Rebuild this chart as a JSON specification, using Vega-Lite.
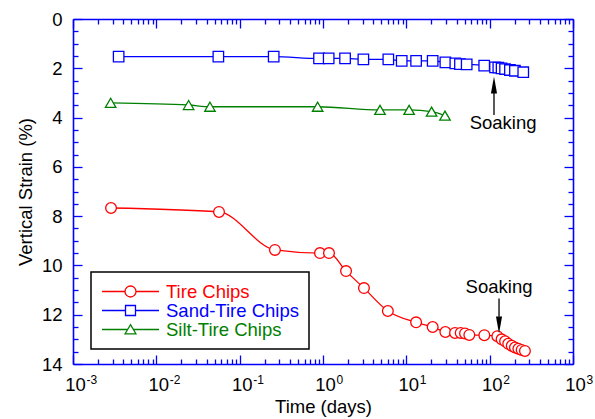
{
  "$schema": "https://vega.github.io/schema/vega-lite/v6.json",
  "width": 500,
  "height": 345,
  "autosize": {"type": "none"},
  "padding": {"left": 73, "top": 19, "right": 22, "bottom": 55},
  "background": "white",
  "config": {
    "view": {"stroke": null},
    "font": "Liberation Sans",
    "axis": {
      "grid": false,
      "domainColor": "#0000ff",
      "tickColor": "#0000ff",
      "domainWidth": 1.6,
      "tickWidth": 1.3,
      "labelColor": "black",
      "titleColor": "black",
      "labelFont": "Liberation Sans",
      "titleFont": "Liberation Sans",
      "labelFontSize": 18.5,
      "titleFontSize": 18.5,
      "titleFontWeight": "normal"
    }
  },
  "datasets": {
    "curves": [
      {"series": "Tire Chips", "t": 0.00286, "strain": 7.67},
      {"series": "Tire Chips", "t": 0.0565, "strain": 7.83},
      {"series": "Tire Chips", "t": 0.265, "strain": 9.37},
      {"series": "Tire Chips", "t": 0.92, "strain": 9.5},
      {"series": "Tire Chips", "t": 1.18, "strain": 9.5},
      {"series": "Tire Chips", "t": 1.89, "strain": 10.23},
      {"series": "Tire Chips", "t": 3.1, "strain": 10.92},
      {"series": "Tire Chips", "t": 6.0, "strain": 11.85},
      {"series": "Tire Chips", "t": 13.1, "strain": 12.31},
      {"series": "Tire Chips", "t": 20.7, "strain": 12.5},
      {"series": "Tire Chips", "t": 29.4, "strain": 12.7},
      {"series": "Tire Chips", "t": 38.4, "strain": 12.74},
      {"series": "Tire Chips", "t": 44.9, "strain": 12.74},
      {"series": "Tire Chips", "t": 50.6, "strain": 12.76},
      {"series": "Tire Chips", "t": 57, "strain": 12.82},
      {"series": "Tire Chips", "t": 86.3, "strain": 12.83},
      {"series": "Tire Chips", "t": 123.6, "strain": 12.87},
      {"series": "Tire Chips", "t": 139, "strain": 13.0},
      {"series": "Tire Chips", "t": 153, "strain": 13.08},
      {"series": "Tire Chips", "t": 167, "strain": 13.18},
      {"series": "Tire Chips", "t": 184, "strain": 13.26},
      {"series": "Tire Chips", "t": 201, "strain": 13.33},
      {"series": "Tire Chips", "t": 221, "strain": 13.38},
      {"series": "Tire Chips", "t": 242, "strain": 13.43},
      {"series": "Tire Chips", "t": 265, "strain": 13.47},
      {"series": "Sand-Tire Chips", "t": 0.00353, "strain": 1.53},
      {"series": "Sand-Tire Chips", "t": 0.0555, "strain": 1.53},
      {"series": "Sand-Tire Chips", "t": 0.256, "strain": 1.53},
      {"series": "Sand-Tire Chips", "t": 0.896, "strain": 1.6},
      {"series": "Sand-Tire Chips", "t": 1.17, "strain": 1.6},
      {"series": "Sand-Tire Chips", "t": 1.84, "strain": 1.6},
      {"series": "Sand-Tire Chips", "t": 3.05, "strain": 1.64},
      {"series": "Sand-Tire Chips", "t": 6.08, "strain": 1.64},
      {"series": "Sand-Tire Chips", "t": 8.8, "strain": 1.7},
      {"series": "Sand-Tire Chips", "t": 13.1, "strain": 1.7},
      {"series": "Sand-Tire Chips", "t": 20.7, "strain": 1.7},
      {"series": "Sand-Tire Chips", "t": 29.4, "strain": 1.76},
      {"series": "Sand-Tire Chips", "t": 38.7, "strain": 1.8},
      {"series": "Sand-Tire Chips", "t": 44, "strain": 1.83},
      {"series": "Sand-Tire Chips", "t": 53, "strain": 1.84},
      {"series": "Sand-Tire Chips", "t": 86, "strain": 1.89},
      {"series": "Sand-Tire Chips", "t": 116, "strain": 1.96},
      {"series": "Sand-Tire Chips", "t": 127, "strain": 1.97},
      {"series": "Sand-Tire Chips", "t": 139, "strain": 2.0},
      {"series": "Sand-Tire Chips", "t": 153, "strain": 2.03},
      {"series": "Sand-Tire Chips", "t": 175, "strain": 2.07},
      {"series": "Sand-Tire Chips", "t": 201, "strain": 2.1},
      {"series": "Sand-Tire Chips", "t": 253, "strain": 2.16},
      {"series": "Silt-Tire Chips", "t": 0.00283, "strain": 3.4},
      {"series": "Silt-Tire Chips", "t": 0.0244, "strain": 3.49},
      {"series": "Silt-Tire Chips", "t": 0.044, "strain": 3.56},
      {"series": "Silt-Tire Chips", "t": 0.863, "strain": 3.56},
      {"series": "Silt-Tire Chips", "t": 4.83, "strain": 3.69},
      {"series": "Silt-Tire Chips", "t": 10.8, "strain": 3.69},
      {"series": "Silt-Tire Chips", "t": 20.1, "strain": 3.76},
      {"series": "Silt-Tire Chips", "t": 29.1, "strain": 3.92}
    ],
    "arrows": [
      {"dir": "up", "t": 112.7, "y1": 3.0, "y2": 3.9, "head": 2.68},
      {"dir": "down", "t": 129.5, "y1": 11.34, "y2": 12.08, "head": 12.42}
    ],
    "notes": [
      {"label": "Soaking", "t": 144.8, "y": 4.48},
      {"label": "Soaking", "t": 129.5, "y": 11.13}
    ],
    "xlabels": [
      {"t": 0.001, "e": "-3"},
      {"t": 0.01, "e": "-2"},
      {"t": 0.1, "e": "-1"},
      {"t": 1, "e": "0"},
      {"t": 10, "e": "1"},
      {"t": 100, "e": "2"},
      {"t": 1000, "e": "3"}
    ]
  },
  "layer": [
    {
      "data": {"name": "curves"},
      "mark": {"type": "line", "interpolate": "monotone", "strokeWidth": 1.3},
      "encoding": {
        "x": {
          "field": "t", "type": "quantitative",
          "scale": {"type": "log", "domain": [0.001, 1000], "nice": false},
          "axis": {"orient": "bottom", "values": [0.001, 0.01, 0.1, 1, 10, 100, 1000], "labels": false, "tickSize": -9, "title": "Time (days)", "titlePadding": 33}
        },
        "y": {
          "field": "strain", "type": "quantitative",
          "scale": {"domain": [0, 14], "reverse": true, "nice": false, "zero": false},
          "axis": {"orient": "left", "values": [0, 2, 4, 6, 8, 10, 12, 14], "tickSize": -9, "labelPadding": 20, "title": "Vertical Strain (%)", "titlePadding": 6}
        },
        "color": {
          "field": "series", "type": "nominal",
          "scale": {"domain": ["Tire Chips", "Sand-Tire Chips", "Silt-Tire Chips"], "range": ["#ff0000", "#0000ff", "#008000"]},
          "legend": {
            "orient": "none", "legendX": 18, "legendY": 253,
            "title": null,
            "fillColor": "white", "strokeColor": "black",
            "padding": 10, "rowPadding": 0, "clipHeight": 19,
            "labelFont": "Liberation Sans", "labelFontSize": 18.5, "labelOffset": 6,
            "labelExpr": "datum.label + '   '",
            "symbolSize": 3249, "symbolStrokeWidth": 1.3,
            "encode": {
              "legend": {"update": {"strokeWidth": {"value": 1.5}}},
              "symbols": {"update": {
                "shape": {"signal": "datum.value === 'Tire Chips' ? 'M-1,0L-0.193,0M0.193,0L1,0M0.193,0A0.193,0.193,0,1,1,-0.193,0A0.193,0.193,0,1,1,0.193,0Z' : datum.value === 'Sand-Tire Chips' ? 'M-1,0L-0.175,0M0.175,0L1,0M-0.175,-0.175L0.175,-0.175L0.175,0.175L-0.175,0.175Z' : 'M-1,0L-0.1,0M0.1,0L1,0M0,-0.17L0.19,0.15L-0.19,0.15Z'"},
                "fill": {"value": "white"},
                "fillOpacity": {"value": 1},
                "opacity": {"value": 1}
              }},
              "labels": {"update": {"fill": {"scale": "color", "field": "value"}}}
            }
          }
        }
      }
    },
    {
      "data": {"name": "curves"},
      "transform": [{"filter": "datum.series === 'Tire Chips'"}],
      "mark": {"type": "point", "shape": "circle", "filled": true, "fill": "white", "stroke": "#ff0000", "opacity": 1, "strokeWidth": 1.3, "size": 115},
      "encoding": {
        "x": {
          "field": "t", "type": "quantitative",
          "scale": {"type": "log", "domain": [0.001, 1000], "nice": false},
          "axis": {"orient": "bottom", "values": [0.002, 0.003, 0.004, 0.005, 0.006, 0.007, 0.008, 0.009, 0.02, 0.03, 0.04, 0.05, 0.06, 0.07, 0.08, 0.09, 0.2, 0.3, 0.4, 0.5, 0.6, 0.7, 0.8, 0.9, 2, 3, 4, 5, 6, 7, 8, 9, 20, 30, 40, 50, 60, 70, 80, 90, 200, 300, 400, 500, 600, 700, 800, 900], "labels": false, "tickSize": -5, "title": null, "domain": false}
        },
        "y": {
          "field": "strain", "type": "quantitative",
          "scale": {"domain": [0, 14], "reverse": true, "nice": false, "zero": false},
          "axis": {"orient": "left", "values": [0.5, 1, 1.5, 2.5, 3, 3.5, 4.5, 5, 5.5, 6.5, 7, 7.5, 8.5, 9, 9.5, 10.5, 11, 11.5, 12.5, 13, 13.5], "labels": false, "tickSize": -5, "title": null, "domain": false}
        }
      }
    },
    {
      "data": {"name": "curves"},
      "transform": [{"filter": "datum.series === 'Sand-Tire Chips'"}],
      "mark": {"type": "point", "shape": "square", "filled": true, "fill": "white", "stroke": "#0000ff", "opacity": 1, "strokeWidth": 1.3, "size": 110},
      "encoding": {
        "x": {"field": "t", "type": "quantitative", "scale": {"type": "log", "domain": [0.001, 1000], "nice": false}, "axis": null},
        "y": {"field": "strain", "type": "quantitative", "scale": {"domain": [0, 14], "reverse": true, "nice": false, "zero": false}, "axis": null}
      }
    },
    {
      "data": {"name": "curves"},
      "transform": [{"filter": "datum.series === 'Silt-Tire Chips'"}],
      "mark": {"type": "point", "shape": "triangle-up", "filled": true, "fill": "white", "stroke": "#008000", "opacity": 1, "strokeWidth": 1.3, "size": 110},
      "encoding": {
        "x": {"field": "t", "type": "quantitative", "scale": {"type": "log", "domain": [0.001, 1000], "nice": false}, "axis": null},
        "y": {"field": "strain", "type": "quantitative", "scale": {"domain": [0, 14], "reverse": true, "nice": false, "zero": false}, "axis": null}
      }
    },
    {
      "data": {"name": "arrows"},
      "mark": {"type": "rule", "color": "black", "strokeWidth": 1.3},
      "encoding": {
        "x": {
          "field": "t", "type": "quantitative",
          "scale": {"type": "log", "domain": [0.001, 1000], "nice": false},
          "axis": {"orient": "top", "values": [0.001, 0.01, 0.1, 1, 10, 100, 1000], "labels": false, "tickSize": -9, "title": null}
        },
        "y": {
          "field": "y1", "type": "quantitative",
          "scale": {"domain": [0, 14], "reverse": true, "nice": false, "zero": false},
          "axis": {"orient": "right", "values": [0, 2, 4, 6, 8, 10, 12, 14], "labels": false, "tickSize": -9, "title": null}
        },
        "y2": {"field": "y2"}
      }
    },
    {
      "data": {"name": "arrows"},
      "transform": [{"filter": "datum.dir === 'up'"}],
      "mark": {"type": "point", "filled": true, "color": "black", "opacity": 1, "size": 289, "shape": "M0,-1L0.36,1L-0.36,1Z"},
      "encoding": {
        "x": {
          "field": "t", "type": "quantitative",
          "scale": {"type": "log", "domain": [0.001, 1000], "nice": false},
          "axis": {"orient": "top", "values": [0.002, 0.003, 0.004, 0.005, 0.006, 0.007, 0.008, 0.009, 0.02, 0.03, 0.04, 0.05, 0.06, 0.07, 0.08, 0.09, 0.2, 0.3, 0.4, 0.5, 0.6, 0.7, 0.8, 0.9, 2, 3, 4, 5, 6, 7, 8, 9, 20, 30, 40, 50, 60, 70, 80, 90, 200, 300, 400, 500, 600, 700, 800, 900], "labels": false, "tickSize": -5, "title": null, "domain": false}
        },
        "y": {
          "field": "head", "type": "quantitative",
          "scale": {"domain": [0, 14], "reverse": true, "nice": false, "zero": false},
          "axis": {"orient": "right", "values": [0.5, 1, 1.5, 2.5, 3, 3.5, 4.5, 5, 5.5, 6.5, 7, 7.5, 8.5, 9, 9.5, 10.5, 11, 11.5, 12.5, 13, 13.5], "labels": false, "tickSize": -5, "title": null, "domain": false}
        }
      }
    },
    {
      "data": {"name": "arrows"},
      "transform": [{"filter": "datum.dir === 'down'"}],
      "mark": {"type": "point", "filled": true, "color": "black", "opacity": 1, "size": 289, "shape": "M0,1L0.36,-1L-0.36,-1Z"},
      "encoding": {
        "x": {"field": "t", "type": "quantitative", "scale": {"type": "log", "domain": [0.001, 1000], "nice": false}, "axis": null},
        "y": {"field": "head", "type": "quantitative", "scale": {"domain": [0, 14], "reverse": true, "nice": false, "zero": false}, "axis": null}
      }
    },
    {
      "data": {"name": "notes"},
      "mark": {"type": "text", "align": "center", "baseline": "alphabetic", "fontSize": 18.5, "font": "Liberation Sans", "color": "black"},
      "encoding": {
        "x": {"field": "t", "type": "quantitative", "scale": {"type": "log", "domain": [0.001, 1000], "nice": false}, "axis": null},
        "y": {"field": "y", "type": "quantitative", "scale": {"domain": [0, 14], "reverse": true, "nice": false, "zero": false}, "axis": null},
        "text": {"field": "label"}
      }
    },
    {
      "data": {"name": "xlabels"},
      "mark": {"type": "text", "align": "center", "baseline": "alphabetic", "fontSize": 18.5, "font": "Liberation Sans", "color": "black", "dx": 2.5, "dy": 27, "text": "10"},
      "encoding": {
        "x": {"field": "t", "type": "quantitative", "scale": {"type": "log", "domain": [0.001, 1000], "nice": false}, "axis": null},
        "y": {"datum": 14, "type": "quantitative", "scale": {"domain": [0, 14], "reverse": true, "nice": false, "zero": false}, "axis": null}
      }
    },
    {
      "data": {"name": "xlabels"},
      "mark": {"type": "text", "align": "left", "baseline": "alphabetic", "fontSize": 12, "font": "Liberation Sans", "color": "black", "dx": 13.5, "dy": 20},
      "encoding": {
        "x": {"field": "t", "type": "quantitative", "scale": {"type": "log", "domain": [0.001, 1000], "nice": false}, "axis": null},
        "y": {"datum": 14, "type": "quantitative", "scale": {"domain": [0, 14], "reverse": true, "nice": false, "zero": false}, "axis": null},
        "text": {"field": "e"}
      }
    }
  ],
  "resolve": {"axis": {"x": "independent", "y": "independent"}}
}
